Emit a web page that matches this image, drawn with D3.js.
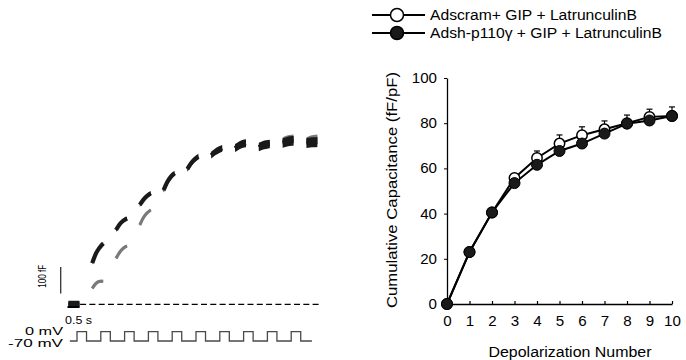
<!DOCTYPE html>
<html>
<head>
<meta charset="utf-8">
<script src="https://cdn.jsdelivr.net/npm/d3@7"></script>
<style>
  body { margin: 0; background: #fff; }
  svg { display: block; }
  text { font-family: "Liberation Sans", Arial, Helvetica, sans-serif; fill: #000; }
</style>
</head>
<body>
<svg id="chart" width="686" height="360"></svg>
<script>
// ---- Cumulative capacitance (fF/pF) per depolarization ----
const depolNumber = [0, 1, 2, 3, 4, 5, 6, 7, 8, 9, 10];
const scramValues = [0, 23, 40.5, 55.8, 64.6, 71, 74.7, 77.3, 80, 82.8, 83.2];
const scramSEM    = [0, 1, 1, 1.5, 3.1, 3.8, 3.7, 3.7, 3.6, 3.4, 4];
const shValues    = [0, 23, 40.5, 53.5, 61.6, 67.7, 71, 75.4, 79.8, 81.2, 83.2];
const yTicks = [0, 20, 40, 60, 80, 100];
const seriesNames = ["Adscram+ GIP + LatrunculinB", "Adsh-p110\u03b3 + GIP + LatrunculinB"];

// ---- Example capacitance recording (fF), one segment after each pulse ----
// four readings across each segment; segment 0 is the pre-pulse baseline
const blackTrace = [
  [0, 0, 0, 0],
  [154, 190, 212, 228],
  [278, 300, 313, 322],
  [372, 392, 406, 416],
  [428, 458, 478, 491],
  [507, 528, 543, 553],
  [559, 570, 578, 584],
  [585, 594, 600, 603],
  [589, 595, 598, 600],
  [604, 608, 611, 612],
  [604, 606, 607, 608]
];
const greyTrace = [
  [0, 0, 0, 0],
  [60, 78, 86, 87],
  [172, 195, 210, 219],
  [297, 325, 342, 353],
  [425, 455, 475, 488],
  [505, 526, 541, 551],
  [557, 568, 576, 582],
  [584, 593, 599, 602],
  [590, 597, 601, 603],
  [612, 618, 621, 623],
  [612, 618, 621, 623]
];
// peak-to-peak noise of each segment (fF)
const blackNoise = [26, 12, 14, 16, 18, 22, 26, 30, 32, 36, 38];
const greyNoise  = [22, 8, 9, 10, 12, 14, 18, 20, 24, 26, 26];

// ---- Voltage protocol ----
const pulseStarts = [0, 1, 2, 3, 4, 5, 6, 7, 8, 9]; // s
const pulseWidth = 0.4;                              // s
const holdingMV = -70, stepMV = 0;

const svg = d3.select("#chart");
const FONT = "Liberation Sans, Arial, sans-serif";

// ================= Right panel: summary chart =================
const x = d3.scaleLinear().domain([0, 10]).range([447, 672]);
const y = d3.scaleLinear().domain([0, 100]).range([304, 78]);
const right = svg.append("g");

function styleTickText(g) {
  g.selectAll("text").attr("font-size", 14).attr("font-family", FONT).attr("fill", "#000")
    .each(function () {
      const w = this.getComputedTextLength();
      d3.select(this).attr("textLength", w * 1.08).attr("lengthAdjust", "spacingAndGlyphs");
    });
}

right.append("g")
  .attr("transform", `translate(0,${y(0)})`)
  .call(d3.axisBottom(x).tickValues(depolNumber).tickSizeInner(-3).tickSizeOuter(0).tickPadding(12))
  .call(g => g.select(".domain").attr("stroke-width", 1.3))
  .call(g => g.selectAll(".tick line").attr("stroke-width", 1.2))
  .call(styleTickText);

right.append("g")
  .attr("transform", `translate(${x(0)},0)`)
  .call(d3.axisLeft(y).tickValues(yTicks).tickSizeInner(3).tickSizeOuter(0).tickPadding(7))
  .call(g => g.select(".domain").attr("stroke-width", 1.3))
  .call(styleTickText);

right.append("text")
  .attr("transform", `translate(397,190) rotate(-90)`)
  .attr("text-anchor", "middle")
  .attr("font-size", 15)
  .attr("textLength", 236).attr("lengthAdjust", "spacingAndGlyphs")
  .text("Cumulative  Capacitance  (fF/pF)");

right.append("text")
  .attr("x", 570).attr("y", 357)
  .attr("text-anchor", "middle")
  .attr("font-size", 14)
  .attr("textLength", 163).attr("lengthAdjust", "spacingAndGlyphs")
  .text("Depolarization Number");

const line = d3.line().x((d, i) => x(depolNumber[i])).y(d => y(d));

// error bars (upper SEM) for the scrambled control
const eb = right.append("g").attr("stroke", "#000").attr("stroke-width", 1.2);
depolNumber.forEach((n, i) => {
  if (scramSEM[i] <= 0) return;
  const top = y(scramValues[i] + scramSEM[i]);
  eb.append("line").attr("x1", x(n)).attr("x2", x(n)).attr("y1", y(scramValues[i])).attr("y2", top);
  eb.append("line").attr("x1", x(n) - 3).attr("x2", x(n) + 3).attr("y1", top).attr("y2", top);
});

right.append("path").datum(scramValues).attr("d", line)
  .attr("fill", "none").attr("stroke", "#000").attr("stroke-width", 2);
right.append("path").datum(shValues).attr("d", line)
  .attr("fill", "none").attr("stroke", "#000").attr("stroke-width", 2);

right.append("g").selectAll("circle").data(scramValues).join("circle")
  .attr("cx", (d, i) => x(depolNumber[i])).attr("cy", d => y(d)).attr("r", 5.2)
  .attr("fill", "#fff").attr("stroke", "#000").attr("stroke-width", 1.5);
right.append("g").selectAll("circle").data(shValues).join("circle")
  .attr("cx", (d, i) => x(depolNumber[i])).attr("cy", d => y(d)).attr("r", 5.5)
  .attr("fill", "#1a1a1a").attr("stroke", "#000").attr("stroke-width", 1);

// legend
const legend = svg.append("g");
const legendWidths = [207, 232];
seriesNames.forEach((name, i) => {
  const ly = 15 + i * 18;
  legend.append("line").attr("x1", 372).attr("x2", 425).attr("y1", ly).attr("y2", ly)
    .attr("stroke", "#000").attr("stroke-width", 2);
  legend.append("circle").attr("cx", 397).attr("cy", ly).attr("r", 6.5)
    .attr("fill", i === 0 ? "#fff" : "#1a1a1a").attr("stroke", "#000").attr("stroke-width", 1.5);
  legend.append("text").attr("x", 430).attr("y", ly + 5).attr("font-size", 14)
    .attr("textLength", legendWidths[i]).attr("lengthAdjust", "spacingAndGlyphs").text(name);
});

// ================= Left panel: example recording =================
const t = d3.scaleLinear().domain([0, 1]).range([77, 100.8]);   // seconds
const cap = d3.scaleLinear().domain([0, 100]).range([304.3, 277.6]); // fF
const mv = d3.scaleLinear().domain([holdingMV, stepMV]).range([341, 331.7]);
const segDur = 0.46; // s
const left = svg.append("g");

// dashed baseline
left.append("line")
  .attr("x1", t(0.13)).attr("x2", t(10.25)).attr("y1", cap(0)).attr("y2", cap(0))
  .attr("stroke", "#000").attr("stroke-width", 1.3).attr("stroke-dasharray", "6,3.3");

function drawTrace(trace, noise, colour, width) {
  const g = left.append("g");
  trace.forEach((seg, k) => {
    const t0 = k - 0.36;
    const pts = seg.map((v, j) => ({ t: t0 + j * segDur / (seg.length - 1), v }));
    const area = d3.area().curve(d3.curveMonotoneX)
      .x(d => t(d.t)).y0(d => cap(d.v - noise[k] / 2)).y1(d => cap(d.v + noise[k] / 2));
    g.append("path").datum(pts).attr("d", area).attr("fill", colour);
    const ln = d3.line().curve(d3.curveMonotoneX).x(d => t(d.t)).y(d => cap(d.v));
    g.append("path").datum(pts).attr("d", ln).attr("fill", "none")
      .attr("stroke", colour).attr("stroke-width", width).attr("stroke-linecap", "butt");
  });
}
drawTrace(greyTrace, greyNoise, "#7a7a7a", 3.2);
drawTrace(blackTrace, blackNoise, "#1a1a1a", 4.2);

// scale bars
left.append("line").attr("x1", 60.7).attr("x2", 60.7).attr("y1", cap(40)).attr("y2", cap(140))
  .attr("stroke", "#333").attr("stroke-width", 1.3);
left.append("text")
  .attr("transform", `translate(45.5,${(cap(40) + cap(140)) / 2 - 4}) rotate(-90)`)
  .attr("text-anchor", "middle").attr("font-size", 10)
  .attr("textLength", 23).attr("lengthAdjust", "spacingAndGlyphs")
  .text("100 fF");
left.append("line").attr("x1", t(-0.4)).attr("x2", t(0.1)).attr("y1", 307).attr("y2", 307)
  .attr("stroke", "#000").attr("stroke-width", 2);
left.append("text").attr("x", 65).attr("y", 324).attr("font-size", 11.5)
  .attr("textLength", 27).attr("lengthAdjust", "spacingAndGlyphs").text("0.5 s");

// voltage protocol
const proto = [[ -0.3, holdingMV ]];
pulseStarts.forEach(s => {
  proto.push([s, holdingMV], [s, stepMV], [s + pulseWidth, stepMV], [s + pulseWidth, holdingMV]);
});
proto.push([9.87, holdingMV]);
left.append("path").datum(proto)
  .attr("d", d3.line().x(d => t(d[0])).y(d => mv(d[1])))
  .attr("fill", "none").attr("stroke", "#4a4a4a").attr("stroke-width", 1.3);

left.append("text").attr("x", 63).attr("y", 335).attr("text-anchor", "end").attr("font-size", 11.5)
  .attr("textLength", 38).attr("lengthAdjust", "spacingAndGlyphs").text(stepMV + " mV");
left.append("text").attr("x", 63).attr("y", 346.5).attr("text-anchor", "end").attr("font-size", 11.5)
  .attr("textLength", 55).attr("lengthAdjust", "spacingAndGlyphs").text(holdingMV + " mV");
</script>
</body>
</html>
